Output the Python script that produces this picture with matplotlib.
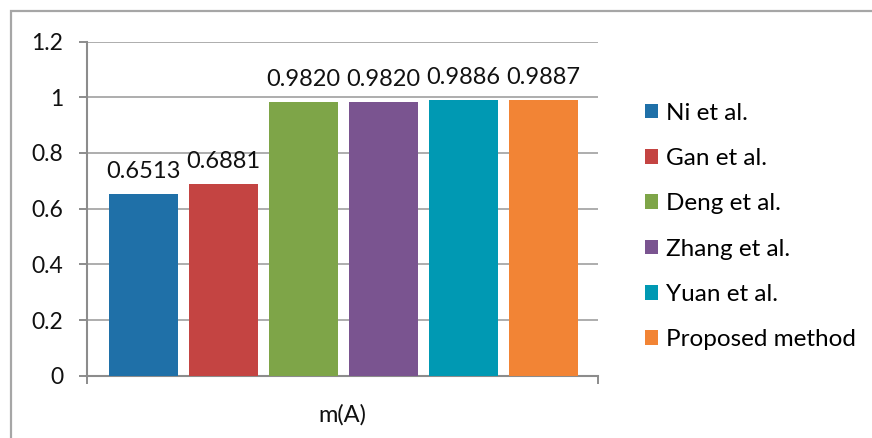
import matplotlib
matplotlib.use('Agg')
import matplotlib.pyplot as plt
from matplotlib.patches import Rectangle, Patch

plt.rcParams['font.family'] = ['Lato', 'DejaVu Sans']

methods = ['Ni et al.', 'Gan et al.', 'Deng et al.', 'Zhang et al.', 'Yuan et al.', 'Proposed method']
values = [0.6513, 0.6881, 0.9820, 0.9820, 0.9886, 0.9887]
value_labels = ['0.6513', '0.6881', '0.9820', '0.9820', '0.9886', '0.9887']
colors = ['#1F70A8', '#C44442', '#7EA548', '#7A5490', '#0099B3', '#F28435']
yticks = [0, 0.2, 0.4, 0.6, 0.8, 1.0, 1.2]
ytick_labels = ['0', '0.2', '0.4', '0.6', '0.8', '1', '1.2']
category = 'm(A)'

grey = '#8c8c8c'

fig = plt.figure(figsize=(8.72, 4.38), dpi=100)
ax = fig.add_axes([87/872, 1-375.7/438, (598-87)/872, (375.7-41.6)/438])

# outer frame around chart
fig.patches.append(Rectangle((11/872, -0.05), 1.0, 1-11/438+0.05, transform=fig.transFigure,
                             fill=False, edgecolor='#a6a6a6', linewidth=1.6))

x = list(range(len(values)))
bars = ax.bar(x, values, width=0.86, color=colors, zorder=3)
for xi, v, lab in zip(x, values, value_labels):
    ax.annotate(lab, (xi, v), xytext=(0, 9), textcoords='offset points',
                ha='center', va='bottom', fontsize=17, color='#111111')

ax.set_ylim(0, 1.2)
ax.set_xlim(-0.705, 5.685)
ax.set_yticks(yticks)
ax.set_yticklabels(ytick_labels, fontsize=16.5, color='#111111')
ax.set_xticks([-0.705, 5.685])
ax.set_xticklabels(['', ''])
ax.tick_params(axis='both', direction='out', length=6, width=1.4, color=grey)
ax.tick_params(axis='y', pad=11)
ax.yaxis.grid(True, color='#a0a0a0', linewidth=1.2, zorder=0)
ax.set_axisbelow(True)
for s in ['top', 'right']:
    ax.spines[s].set_visible(False)
for s in ['left', 'bottom']:
    ax.spines[s].set_color(grey)
    ax.spines[s].set_linewidth(1.5)
ax.set_xlabel(category, fontsize=17, color='#111111', labelpad=11)

handles = [Patch(facecolor=c, edgecolor='none') for c in colors]
fig.legend(handles, methods, loc='center left', bbox_to_anchor=(645/872, 1-226.5/438),
           frameon=False, fontsize=17.5, handlelength=0.55, handleheight=0.55,
           handletextpad=0.3, labelspacing=1.0, borderpad=0, borderaxespad=0)

fig.savefig('out.png', dpi=100)
